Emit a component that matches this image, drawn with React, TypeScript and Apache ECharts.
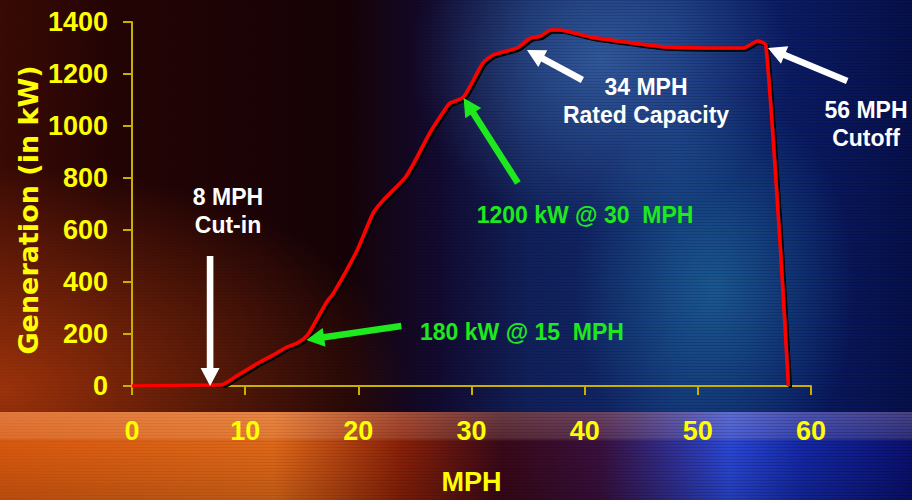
import React, { useEffect, useRef } from "react";
import * as echarts from "echarts";

// Wind speed (MPH) and generation (kW)
const mph = [0, 4, 7, 8, 9.3, 11.3, 12.8, 13.6, 14.6, 15.5, 16.3, 17.2, 17.8, 19.9, 21.3, 22.2, 24.1, 24.9, 26.3, 27.8, 28.1, 29.3, 31.0, 31.9, 34.0, 35.2, 36.1, 37.0, 37.8, 40.5, 44.3, 47.3, 54.0, 55.3, 56.0, 57.3, 58.0];
const kw = [0, 2, 4, 6, 40, 92, 127, 148, 165, 196, 254, 323, 357, 523, 665, 715, 800, 857, 973, 1073, 1088, 1112, 1242, 1273, 1300, 1338, 1346, 1369, 1369, 1342, 1319, 1304, 1300, 1327, 1312, 523, 0];

const xTicks = [0, 10, 20, 30, 40, 50, 60];
const yTicks = [0, 200, 400, 600, 800, 1000, 1200, 1400];

const xAxisName = "MPH";
const yAxisName = "Generation (in kW)";

// Annotations: text lines, arrow tip and tail in data units
const annoLabels = [
  { lines: ["8 MPH", "Cut-in"], color: "#ffffff" },
  { lines: ["180 kW @ 15  MPH"], color: "#1ee81e" },
  { lines: ["1200 kW @ 30  MPH"], color: "#1ee81e" },
  { lines: ["34 MPH", "Rated Capacity"], color: "#ffffff" },
  { lines: ["56 MPH", "Cutoff"], color: "#ffffff" },
];
const arrowTips = [[6.9, 0], [15.4, 177], [29.3, 1108], [34.9, 1292], [56.2, 1300]];
const arrowTails = [[6.9, 500], [23.8, 231], [34.1, 781], [39.8, 1177], [63.2, 1173]];

export default function App() {
  const ref = useRef<HTMLDivElement>(null);
  useEffect(() => {
    document.body.style.margin = "0";
    const chart = echarts.init(ref.current!, null, { renderer: "svg" });

    const bg: any[] = [];
    bg.push({
      type: "rect", z: -100, silent: true,
      shape: { x: 0, y: 0, width: 912, height: 500 },
      style: {
        fill: new echarts.graphic.LinearGradient(0, 0, 1, 0, [
          { offset: 0, color: "#3a0a04" },
          { offset: 0.12, color: "#240404" },
          { offset: 0.38, color: "#160206" },
          { offset: 0.48, color: "#120a30" },
          { offset: 0.58, color: "#10205a" },
          { offset: 0.74, color: "#10286e" },
          { offset: 0.88, color: "#0a1a62" },
          { offset: 1, color: "#06104c" },
        ]),
      },
    });
    bg.push({
      type: "rect", z: -99, silent: true,
      shape: { x: 0, y: 0, width: 912, height: 500 },
      style: {
        fill: new echarts.graphic.RadialGradient(0.0, 0.78, 0.45, [
          { offset: 0, color: "rgba(180,60,12,0.8)" },
          { offset: 1, color: "rgba(180,60,12,0)" },
        ]),
      },
    });
    bg.push({
      type: "ellipse", z: -98, silent: true,
      shape: { cx: 600, cy: 60, rx: 190, ry: 170 },
      style: {
        fill: new echarts.graphic.RadialGradient(0.5, 0.5, 0.5, [
          { offset: 0, color: "rgba(80,140,210,0.5)" },
          { offset: 1, color: "rgba(80,140,210,0)" },
        ]),
      },
    });
    bg.push({
      type: "ellipse", z: -98, silent: true,
      shape: { cx: 715, cy: 290, rx: 140, ry: 200 },
      style: {
        fill: new echarts.graphic.RadialGradient(0.5, 0.5, 0.5, [
          { offset: 0, color: "rgba(40,150,190,0.45)" },
          { offset: 1, color: "rgba(40,150,190,0)" },
        ]),
      },
    });
    bg.push({
      type: "rect", z: -97, silent: true,
      shape: { x: 0, y: 412, width: 912, height: 88 },
      style: {
        fill: new echarts.graphic.LinearGradient(0, 0, 1, 0, [
          { offset: 0, color: "#d8580e" },
          { offset: 0.3, color: "#e06818" },
          { offset: 0.44, color: "#8a2008" },
          { offset: 0.55, color: "#3a0818" },
          { offset: 0.66, color: "#3a1040" },
          { offset: 0.8, color: "#2a48d8" },
          { offset: 0.88, color: "#1428a8" },
          { offset: 1, color: "#0a1070" },
        ]),
      },
    });
    bg.push({
      type: "rect", z: -96, silent: true,
      shape: { x: 0, y: 412, width: 912, height: 88 },
      style: {
        fill: new echarts.graphic.LinearGradient(0, 0, 0, 1, [
          { offset: 0, color: "rgba(255,220,200,0.25)" },
          { offset: 0.3, color: "rgba(255,220,200,0.15)" },
          { offset: 0.35, color: "rgba(0,0,0,0)" },
          { offset: 1, color: "rgba(0,0,0,0.15)" },
        ]),
      },
    });
    for (let y = 0; y < 500; y += 3) {
      bg.push({
        type: "rect", z: -95, silent: true,
        shape: { x: 0, y, width: 912, height: 1 },
        style: {
          fill: new echarts.graphic.LinearGradient(0, 0, 1, 0, [
            { offset: 0, color: "rgba(0,0,0,0.03)" },
            { offset: 1, color: "rgba(0,0,0,0.18)" },
          ]),
        },
      });
    }
    bg.push({
      type: "text", z: 50, silent: true,
      x: 28, y: 210, rotation: Math.PI / 2,
      style: {
        text: yAxisName, fill: "#ffff00",
        font: "bold 27px 'DejaVu Sans', Verdana, sans-serif",
        align: "center", verticalAlign: "middle",
        textShadowColor: "#000", textShadowOffsetX: 2, textShadowOffsetY: 2, textShadowBlur: 0,
      },
    });

    const axisColor = "#c8b000";
    const labelStyle = {
      color: "#ffff00", fontSize: 27, fontWeight: "bold" as const,
      fontFamily: "'Liberation Sans', Arial, sans-serif",
      textShadowColor: "#000", textShadowOffsetX: 2, textShadowOffsetY: 2, textShadowBlur: 0,
    };

    chart.setOption({
      animation: false,
      grid: { left: 132, right: 101, top: 22, bottom: 114 },
      xAxis: {
        type: "value", min: xTicks[0], max: xTicks[xTicks.length - 1], interval: 10,
        name: xAxisName, nameLocation: "middle", nameGap: 82,
        nameTextStyle: { ...labelStyle },
        axisLine: { show: true, lineStyle: { color: axisColor, width: 2 } },
        axisTick: { show: true, length: 9, lineStyle: { color: axisColor, width: 2 } },
        axisLabel: { ...labelStyle, margin: 31, formatter: (v: number) => String(v) },
        splitLine: { show: false },
      },
      yAxis: {
        type: "value", min: yTicks[0], max: yTicks[yTicks.length - 1], interval: 200,
        axisLine: { show: true, lineStyle: { color: axisColor, width: 2 } },
        axisTick: { show: true, length: 9, lineStyle: { color: axisColor, width: 2 } },
        axisLabel: { ...labelStyle, margin: 24, formatter: (v: number) => String(v) },
        splitLine: { show: false },
      },
      series: [{
        type: "line", symbol: "none", smooth: 0.2, z: 5,
        data: mph.map((m, i) => [m, kw[i]]),
        lineStyle: {
          color: "#ff0000", width: 3.5,
          shadowColor: "#000", shadowOffsetX: 2, shadowOffsetY: 2, shadowBlur: 0,
        },
      }],
      graphic: { elements: bg },
    });

    // Annotations placed relative to the axes' scales
    const ann: any[] = [];
    const textPos = [[228, 197], [420, 332], [585, 215], [646, 87], [866, 110]];
    annoLabels.forEach((a, i) => {
      const lh = 28;
      const [tx, ty] = textPos[i];
      const single = a.lines.length === 1;
      a.lines.forEach((ln, j) => {
        ann.push({
          type: "text", z: 60, silent: true,
          x: tx, y: ty + j * lh,
          style: {
            text: ln, fill: a.color,
            font: "bold 23px 'Liberation Sans', Arial, sans-serif",
            align: single && i === 1 ? "left" : "center", verticalAlign: "middle",
          },
        });
      });
      const tip = chart.convertToPixel({ gridIndex: 0 }, arrowTips[i]) as number[];
      const tail = chart.convertToPixel({ gridIndex: 0 }, arrowTails[i]) as number[];
      const dx = tip[0] - tail[0], dy = tip[1] - tail[1];
      const len = Math.hypot(dx, dy);
      const ux = dx / len, uy = dy / len;
      const nx = -uy, ny = ux;
      const w = 3.3, L = 18, H = 9.5;
      const bx = tip[0] - ux * L, by = tip[1] - uy * L;
      const pts = [
        [tail[0] + nx * w, tail[1] + ny * w],
        [bx + nx * w, by + ny * w],
        [bx + nx * H, by + ny * H],
        [tip[0], tip[1]],
        [bx - nx * H, by - ny * H],
        [bx - nx * w, by - ny * w],
        [tail[0] - nx * w, tail[1] - ny * w],
      ];
      ann.push({
        type: "polygon", z: 60, silent: true,
        shape: { points: pts },
        style: { fill: a.color },
      });
    });

    chart.setOption({ graphic: { elements: [...bg, ...ann] } });

    return () => chart.dispose();
  }, []);
  return <div ref={ref} style={{ width: 912, height: 500 }} />;
}
